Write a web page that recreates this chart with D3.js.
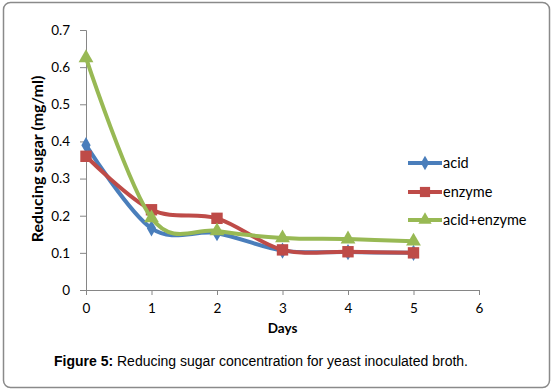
<!DOCTYPE html>
<html><head><meta charset="utf-8">
<script src="https://cdn.jsdelivr.net/npm/d3@7"></script>
<style>body{margin:0;background:#fff}svg{display:block}</style>
</head><body>
<svg id="c" width="554" height="391"></svg>
<script>
const days = [0, 1, 2, 3, 4, 5];
const acid = [0.39, 0.166, 0.153, 0.106, 0.102, 0.10];
const enzyme = [0.36, 0.216, 0.193, 0.108, 0.103, 0.10];
const acidEnzyme = [0.625, 0.194, 0.159, 0.14, 0.137, 0.131];
const seriesNames = ["acid", "enzyme", "acid+enzyme"];
const xTicks = [0, 1, 2, 3, 4, 5, 6];
const yTicks = [0, 0.1, 0.2, 0.3, 0.4, 0.5, 0.6, 0.7];
const xTitle = "Days";
const yTitle = "Reducing sugar (mg/ml)";
const captionBold = "Figure 5:";
const captionText = " Reducing sugar concentration for yeast inoculated broth.";

const colors = ["#4A7EBB", "#BE4B48", "#98B954"];
const shapes = [d3.symbolDiamond, d3.symbolSquare, d3.symbolTriangle];
const sizes = [75, 130, 95];
const seriesVals = [acid, enzyme, acidEnzyme];

const svg = d3.select("#c");
const font = "Lato, 'Open Sans', sans-serif";

svg.append("rect").attr("x", 3.5).attr("y", 2.5).attr("width", 546).attr("height", 385)
  .attr("rx", 7).attr("fill", "#fff").attr("stroke", "#8a8a8a").attr("stroke-width", 1.5);

const x = d3.scaleLinear().domain([0, 6]).range([86, 479]);
const y = d3.scaleLinear().domain([0, 0.7]).range([290, 30]);

const xAxis = svg.append("g").attr("transform", "translate(0,290)")
  .call(d3.axisBottom(x).tickValues(xTicks).tickFormat(d3.format("d")).tickSizeOuter(0).tickSize(5).tickPadding(6));
const yAxis = svg.append("g").attr("transform", "translate(86,0)")
  .call(d3.axisLeft(y).tickValues(yTicks).tickFormat(d => d === 0 ? "0" : d3.format(".1f")(d)).tickSizeOuter(0).tickSize(6).tickPadding(10));
[xAxis, yAxis].forEach(a => {
  a.select(".domain").attr("stroke", "#868686").attr("stroke-width", 1);
  a.selectAll(".tick line").attr("stroke", "#868686");
  a.selectAll("text").attr("font-family", font).attr("font-size", 13.5).attr("fill", "#000");
});
xAxis.selectAll("text").attr("dy", "0.9em");

svg.append("text").attr("x", x(3)).attr("y", 333).attr("text-anchor", "middle")
  .attr("font-family", font).attr("font-weight", "bold").attr("font-size", 13.5).text(xTitle);
svg.append("text").attr("transform", "translate(43,159) rotate(-90)").attr("text-anchor", "middle")
  .attr("font-family", font).attr("font-weight", "bold").attr("font-size", 16).text(yTitle);

const line = d3.line().x((d, i) => x(days[i])).y(d => y(d)).curve(d3.curveCardinal.tension(0));

seriesVals.forEach((vals, k) => {
  svg.append("path").datum(vals).attr("d", line).attr("fill", "none")
    .attr("stroke", colors[k]).attr("stroke-width", 4).attr("stroke-linejoin", "round");
  svg.selectAll(null).data(vals).enter().append("path")
    .attr("transform", (d, i) => `translate(${x(days[i])},${y(d)})`)
    .attr("d", d3.symbol().type(shapes[k]).size(sizes[k]))
    .attr("fill", colors[k]);
});

const legY = [163, 192, 220];
seriesNames.forEach((n, k) => {
  svg.append("line").attr("x1", 408).attr("x2", 442).attr("y1", legY[k]).attr("y2", legY[k])
    .attr("stroke", colors[k]).attr("stroke-width", 4);
  svg.append("path").attr("transform", `translate(425,${legY[k]})`)
    .attr("d", d3.symbol().type(shapes[k]).size(sizes[k] * 0.8)).attr("fill", colors[k]);
  svg.append("text").attr("x", 443).attr("y", legY[k]).attr("dy", "0.35em")
    .attr("font-family", font).attr("font-size", 14.5).text(n);
});

const cap = svg.append("text").attr("x", 261).attr("y", 366).attr("text-anchor", "middle")
  .attr("font-family", "'Liberation Sans', Arial, sans-serif").attr("font-size", 14);
cap.append("tspan").attr("font-weight", "bold").text(captionBold);
cap.append("tspan").text(captionText);
</script>
</body></html>
